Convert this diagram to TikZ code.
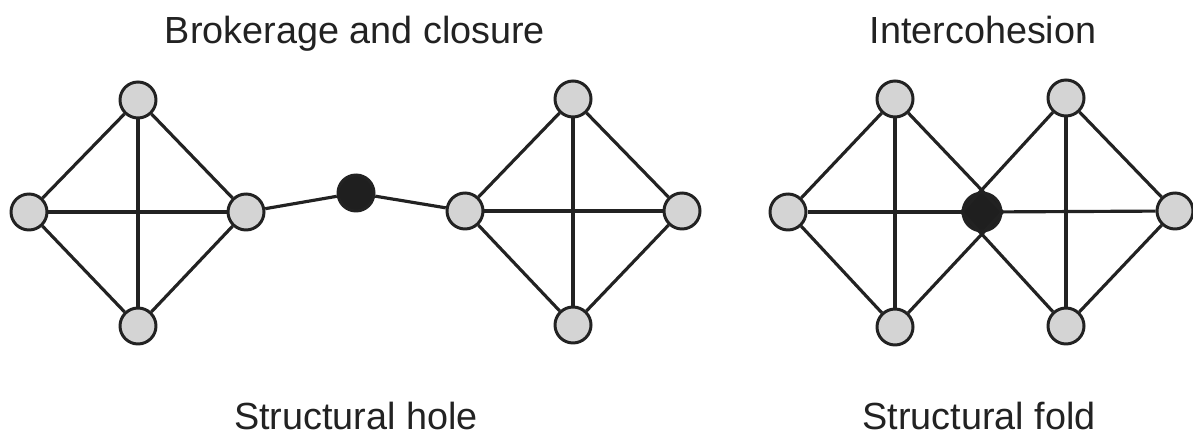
\documentclass[tikz,border=0pt]{standalone}
\usepackage{fontspec}
\setmainfont{Liberation Sans}
\usepackage{tikz}
\usetikzlibrary{positioning}
\definecolor{inkgray}{HTML}{222222}
\definecolor{memberfill}{HTML}{D4D4D4}
\tikzset{
  member/.style={circle, minimum size=0.72cm, inner sep=0pt,
    draw=inkgray, fill=memberfill, line width=1.7pt},
  broker/.style={member, fill=black!88},
  tie/.style={draw=inkgray, line width=1.8pt},
  caption/.style={anchor=base, text=inkgray, inner sep=0pt,
    font=\fontsize{21.5pt}{26pt}\selectfont}
}
\begin{document}
\begin{tikzpicture}[x=0.02cm, y=-0.02cm]
\useasboundingbox (0,0) rectangle (1193,435);

% headings
\node (title1) [caption] at (355,44)  {Brokerage and closure};
\node (title2) [caption] at (983,44)  {Intercohesion};
\node (cap1)   [caption] at (356,429) {Structural hole};
\node (cap2)   [caption] at (979,429) {Structural fold};

% structural hole: two cliques and a broker
\node (ltop)   [member] at (138,100) {};
\node (lleft)  [member] at (29,212)  {};
\node (lright) [member] at (246,212) {};
\node (lbot)   [member] at (138,326) {};
\node (hole)   [broker] at (356,193) {};
\node (rtop)   [member] at (573,99)  {};
\node (rleft)  [member] at (465,211) {};
\node (rright) [member] at (682,211) {};
\node (rbot)   [member] at (573,325) {};

\draw [tie] (lleft) -- (ltop);
\draw [tie] (lleft) -- (lbot);
\draw [tie] (lleft) -- (lright);
\draw [tie] (ltop)  -- (lbot);
\draw [tie] (ltop)  -- (lright);
\draw [tie] (lbot)  -- (lright);
\draw [tie] (lright) -- (hole);
\draw [tie] (hole)   -- (rleft);
\draw [tie] (rleft) -- (rtop);
\draw [tie] (rleft) -- (rbot);
\draw [tie] (rleft) -- (rright);
\draw [tie] (rtop)  -- (rbot);
\draw [tie] (rtop)  -- (rright);
\draw [tie] (rbot)  -- (rright);

% structural fold: two cliques sharing one member
\node (fleft)  [member] at (788,212)  {};
\node (f1top)  [member] at (895,99)   {};
\node (f1bot)  [member] at (895,327)  {};
\node (fold)   [broker, minimum size=0.76cm] at (982,212) {};
\node (f2top)  [member] at (1066,98)  {};
\node (f2bot)  [member] at (1066,326) {};
\node (fright) [member] at (1175,211) {};

\draw [tie] (fleft) -- (f1top);
\draw [tie] (fleft) -- (f1bot);
\draw [tie] (fleft) -- (fold);
\draw [tie] (f1top) -- (f1bot);
\draw [tie] (f1top) -- (fold.east);
\draw [tie] (f1bot) -- (fold.east);
\draw [tie] (fold)  -- (fright);
\draw [tie] (f2top) -- (f2bot);
\draw [tie] (f2top) -- (fold.west);
\draw [tie] (f2bot) -- (fold.west);
\draw [tie] (f2top) -- (fright);
\draw [tie] (f2bot) -- (fright);
\end{tikzpicture}
\end{document}
